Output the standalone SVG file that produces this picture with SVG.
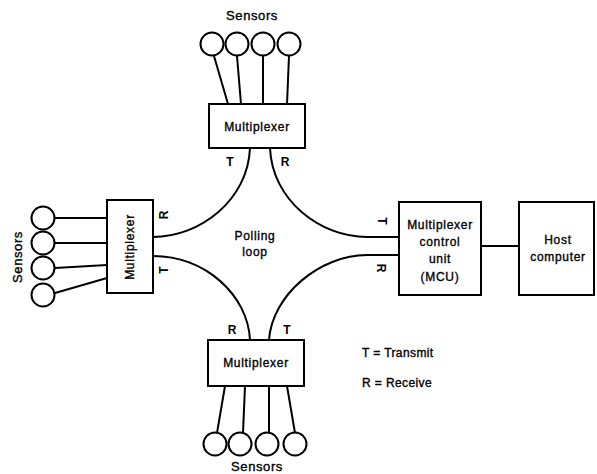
<svg xmlns="http://www.w3.org/2000/svg" width="597" height="474" viewBox="0 0 597 474">
<style>
.box{fill:#fff;stroke:#000;stroke-width:2}
.ln{fill:none;stroke:#000;stroke-width:2}
.cir{fill:#fff;stroke:#000;stroke-width:2}
text{font-family:"Liberation Sans",Arial,sans-serif;font-size:12px;fill:#000;stroke:#000;stroke-width:0.35px;text-anchor:middle;dominant-baseline:central}
.lbl{letter-spacing:0.7px}
.sens{font-size:13px;letter-spacing:0.6px}
.tr{font-weight:bold;font-size:12px;stroke-width:0}
.leg{text-anchor:start;letter-spacing:0.4px}
</style>
<rect width="597" height="474" fill="#fff"/>
<g id="connectors">
<path class="ln" d="M250,148 C248,200 200,237 153,237"/>
<path class="ln" d="M270,148 C272,200 320,237 367,237 H399"/>
<path class="ln" d="M153,256 C205,256 248,295 250,340"/>
<path class="ln" d="M399,255 H367 C320,255 272,295 269,340"/>
<path class="ln" d="M481,246 H519"/>
<path class="ln" d="M214,56 L228,104 M237,56 L241,104 M263,56 L263,104 M289,56 L287,104"/>
<path class="ln" d="M55,218 H107 M55,243 H107 M55,268 L107,265 M55,293 L107,278"/>
<path class="ln" d="M225,386 L217,433 M245,386 L243,433 M269,386 L269,433 M287,386 L295,433"/>
</g>
<g id="top-sensors">
<circle class="cir" cx="212" cy="44" r="11.5"/>
<circle class="cir" cx="237" cy="44" r="11.5"/>
<circle class="cir" cx="263" cy="44" r="11.5"/>
<circle class="cir" cx="289" cy="44" r="11.5"/>
<text class="sens" x="252" y="15">Sensors</text>
</g>
<g id="top-mux">
<rect class="box" x="209" y="104" width="96" height="44"/>
<text class="lbl" x="257" y="127">Multiplexer</text>
<text class="tr" x="230" y="162">T</text>
<text class="tr" x="285" y="162">R</text>
</g>
<g id="left-sensors">
<circle class="cir" cx="43" cy="218" r="11.5"/>
<circle class="cir" cx="43" cy="243" r="11.5"/>
<circle class="cir" cx="43" cy="268" r="11.5"/>
<circle class="cir" cx="43" cy="295" r="11.5"/>
<text class="sens" transform="translate(17,257) rotate(-90)">Sensors</text>
</g>
<g id="left-mux">
<rect class="box" x="107" y="200" width="46" height="93"/>
<text class="lbl" transform="translate(130,247) rotate(-90)">Multiplexer</text>
<text class="tr" transform="translate(164,215) rotate(-90)">R</text>
<text class="tr" transform="translate(164,270) rotate(-90)">T</text>
</g>
<g id="bottom-mux">
<rect class="box" x="208" y="340" width="96" height="46"/>
<text class="lbl" x="256" y="363">Multiplexer</text>
<text class="tr" x="232" y="330">R</text>
<text class="tr" x="287" y="330">T</text>
</g>
<g id="bottom-sensors">
<circle class="cir" cx="215" cy="444" r="11.5"/>
<circle class="cir" cx="240" cy="444" r="11.5"/>
<circle class="cir" cx="267" cy="444" r="11.5"/>
<circle class="cir" cx="295" cy="444" r="11.5"/>
<text class="sens" x="257" y="466">Sensors</text>
</g>
<g id="mcu">
<rect class="box" x="399" y="202" width="82" height="93"/>
<text class="lbl" x="440" y="225">Multiplexer</text>
<text class="lbl" x="440" y="242">control</text>
<text class="lbl" x="440" y="259">unit</text>
<text class="lbl" x="440" y="277">(MCU)</text>
<text class="tr" transform="translate(382,221) rotate(90)">T</text>
<text class="tr" transform="translate(381,268) rotate(90)">R</text>
</g>
<g id="host">
<rect class="box" x="519" y="202" width="75" height="93"/>
<text class="lbl" x="558" y="240">Host</text>
<text class="lbl" x="558" y="257">computer</text>
</g>
<g id="polling-loop">
<text class="lbl" x="255" y="236">Polling</text>
<text class="lbl" x="255" y="252">loop</text>
</g>
<g id="legend">
<text class="leg" x="362" y="353">T = Transmit</text>
<text class="leg" x="362" y="383">R = Receive</text>
</g>
</svg>
